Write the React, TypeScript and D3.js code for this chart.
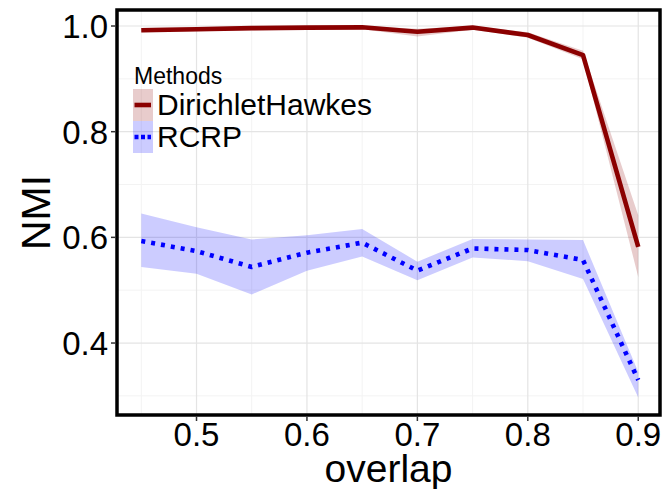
import React from "react";
import * as d3 from "d3";

// overlap levels on the x axis
const overlap = [0.45, 0.5, 0.55, 0.6, 0.65, 0.7, 0.75, 0.8, 0.85, 0.9];

// DirichletHawkes: mean NMI and its confidence band
const dhMean = [0.992, 0.994, 0.996, 0.997, 0.9975, 0.989, 0.997, 0.983, 0.945, 0.582];
const dhLow = [0.988, 0.99, 0.992, 0.993, 0.994, 0.98, 0.993, 0.978, 0.937, 0.525];
const dhHigh = [0.996, 0.998, 0.999, 1.0, 1.0, 0.995, 1.0, 0.988, 0.953, 0.642];

// RCRP: mean NMI and its confidence band
const rcMean = [0.593, 0.574, 0.544, 0.571, 0.59, 0.537, 0.579, 0.576, 0.557, 0.33];
const rcLow = [0.544, 0.531, 0.492, 0.537, 0.564, 0.519, 0.562, 0.555, 0.521, 0.297];
const rcHigh = [0.645, 0.619, 0.596, 0.604, 0.616, 0.554, 0.597, 0.596, 0.595, 0.345];

const xTicks = [0.5, 0.6, 0.7, 0.8, 0.9];
const xMinor = [0.45, 0.55, 0.65, 0.75, 0.85];
const yTicks = [0.4, 0.6, 0.8, 1.0];
const yMinor = [0.3, 0.5, 0.7, 0.9];

const legendTitle = "Methods";
const seriesNames = ["DirichletHawkes", "RCRP"];

const FONT = "'Liberation Sans', Arial, Helvetica, sans-serif";
const W = 665;
const H = 489;
const P = { left: 117, right: 660, top: 10, bottom: 415 };

const DH_COLOR = "#8b0000";
const RC_COLOR = "#0000ff";

export default function App() {
  const x = d3.scaleLinear().domain([0.428, 0.9197]).range([P.left, P.right]);
  const y = d3.scaleLinear().domain([0.2638, 1.0303]).range([P.bottom, P.top]);

  const idx = overlap.map((_, i) => i);
  const line = (vals: number[]) =>
    d3.line<number>().x((i) => x(overlap[i])).y((i) => y(vals[i]))(idx) || "";
  const area = (lo: number[], hi: number[]) =>
    d3
      .area<number>()
      .x((i) => x(overlap[i]))
      .y0((i) => y(lo[i]))
      .y1((i) => y(hi[i]))(idx) || "";

  const legendX = 133;
  const keyW = 20;
  const keyH = 32;
  const keyTop = 89;

  return (
    <svg
      width={W}
      height={H}
      style={{ position: "absolute", left: 0, top: 0, background: "#fff" }}
      fontFamily={FONT}
    >
      <rect x={0} y={0} width={W} height={H} fill="#fff" />
      <defs>
        <clipPath id="panel">
          <rect x={P.left} y={P.top} width={P.right - P.left} height={P.bottom - P.top} />
        </clipPath>
      </defs>

      {/* grid */}
      <g>
        {xMinor.map((v) => (
          <line key={"xm" + v} x1={x(v)} x2={x(v)} y1={P.top} y2={P.bottom} stroke="#f3f3f3" strokeWidth={1} />
        ))}
        {yMinor.map((v) => (
          <line key={"ym" + v} x1={P.left} x2={P.right} y1={y(v)} y2={y(v)} stroke="#f3f3f3" strokeWidth={1} />
        ))}
        {xTicks.map((v) => (
          <line key={"xg" + v} x1={x(v)} x2={x(v)} y1={P.top} y2={P.bottom} stroke="#e4e4e4" strokeWidth={1.2} />
        ))}
        {yTicks.map((v) => (
          <line key={"yg" + v} x1={P.left} x2={P.right} y1={y(v)} y2={y(v)} stroke="#e4e4e4" strokeWidth={1.2} />
        ))}
      </g>

      {/* bands and lines */}
      <g clipPath="url(#panel)">
        <path d={area(dhLow, dhHigh)} fill={DH_COLOR} fillOpacity={0.2} />
        <path d={area(rcLow, rcHigh)} fill={RC_COLOR} fillOpacity={0.2} />
        <path d={line(dhMean)} fill="none" stroke={DH_COLOR} strokeWidth={4.6} strokeLinejoin="round" />
        <path
          d={line(rcMean)}
          fill="none"
          stroke={RC_COLOR}
          strokeWidth={4.6}
          strokeDasharray="4 6"
          strokeLinejoin="round"
        />
      </g>

      {/* panel border */}
      <rect
        x={P.left}
        y={P.top}
        width={P.right - P.left}
        height={P.bottom - P.top}
        fill="none"
        stroke="#000"
        strokeWidth={3.5}
      />

      {/* y axis */}
      {yTicks.map((v) => (
        <g key={"yt" + v}>
          <line x1={P.left - 6} x2={P.left - 1.7} y1={y(v)} y2={y(v)} stroke="#333" strokeWidth={1.5} />
          <text x={108} y={y(v)} dy="0.36em" textAnchor="end" fontSize={33} fill="#000">
            {v.toFixed(1)}
          </text>
        </g>
      ))}
      <text
        transform={`translate(50, ${(P.top + P.bottom) / 2}) rotate(-90)`}
        textAnchor="middle"
        fontSize={41}
        fill="#000"
      >
        NMI
      </text>

      {/* x axis */}
      {xTicks.map((v) => (
        <g key={"xt" + v}>
          <line x1={x(v)} x2={x(v)} y1={P.bottom + 1.7} y2={P.bottom + 6} stroke="#333" strokeWidth={1.5} />
          <text x={x(v)} y={446} textAnchor="middle" fontSize={33} fill="#000">
            {v.toFixed(1)}
          </text>
        </g>
      ))}
      <text x={(P.left + P.right) / 2} y={482} textAnchor="middle" fontSize={39} fill="#000">
        overlap
      </text>

      {/* legend */}
      <g>
        <text x={legendX + 1} y={84} fontSize={23} fill="#000">
          {legendTitle}
        </text>
        <rect x={legendX} y={keyTop} width={keyW} height={keyH} fill={DH_COLOR} fillOpacity={0.2} />
        <line
          x1={legendX + 1.5}
          x2={legendX + keyW - 2}
          y1={keyTop + keyH / 2}
          y2={keyTop + keyH / 2}
          stroke={DH_COLOR}
          strokeWidth={4.6}
        />
        <rect x={legendX} y={keyTop + keyH} width={keyW} height={keyH} fill={RC_COLOR} fillOpacity={0.2} />
        <line
          x1={legendX + 1.5}
          x2={legendX + keyW - 2}
          y1={keyTop + keyH * 1.5}
          y2={keyTop + keyH * 1.5}
          stroke={RC_COLOR}
          strokeWidth={4.6}
          strokeDasharray="4 2.5"
        />
        <text x={157} y={114.5} fontSize={30} fill="#000">
          {seriesNames[0]}
        </text>
        <text x={157} y={146.5} fontSize={30} fill="#000">
          {seriesNames[1]}
        </text>
      </g>
    </svg>
  );
}
